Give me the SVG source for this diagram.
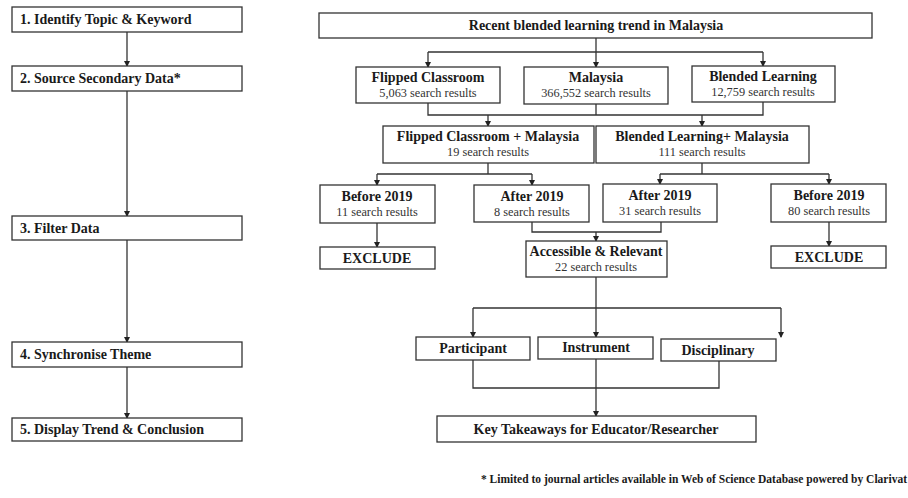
<svg xmlns="http://www.w3.org/2000/svg" width="908" height="498" viewBox="0 0 908 498">
<style>
.b{fill:#fff;stroke:#333;stroke-width:1.3}
.t{font-family:"Liberation Serif","Times New Roman",serif;font-weight:bold;font-size:14px;fill:#1a1a1a}
.s{font-family:"Liberation Serif","Times New Roman",serif;font-size:12.3px;fill:#333}
.c{text-anchor:middle}
.l{fill:none;stroke:#333;stroke-width:1.3}
.f{font-family:"Liberation Serif","Times New Roman",serif;font-weight:bold;font-size:11.5px;fill:#1a1a1a}
</style>
<defs>
<marker id="a" markerWidth="6" markerHeight="6" refX="5" refY="3" orient="auto" markerUnits="userSpaceOnUse">
<path d="M0,0 L6,3 L0,6 z" fill="#222"/>
</marker>
</defs>
<rect width="908" height="498" fill="#fff"/>
<g id="connectors">
<path class="l" d="M127,32 V66" marker-end="url(#a)"/>
<path class="l" d="M127,91 V216" marker-end="url(#a)"/>
<path class="l" d="M127,240 V342" marker-end="url(#a)"/>
<path class="l" d="M127,367 V418" marker-end="url(#a)"/>
<path class="l" d="M596,38 V52"/>
<path class="l" d="M428,52 H763"/>
<path class="l" d="M428,52 V67" marker-end="url(#a)"/>
<path class="l" d="M596,52 V67" marker-end="url(#a)"/>
<path class="l" d="M763,52 V66" marker-end="url(#a)"/>
<path class="l" d="M428,103 V115 H763 V102"/>
<path class="l" d="M596,104 V115"/>
<path class="l" d="M488,115 V126" marker-end="url(#a)"/>
<path class="l" d="M702,115 V126" marker-end="url(#a)"/>
<path class="l" d="M488,163 V174"/>
<path class="l" d="M377,174 H532"/>
<path class="l" d="M377,174 V185" marker-end="url(#a)"/>
<path class="l" d="M532,174 V185" marker-end="url(#a)"/>
<path class="l" d="M702,163 V174"/>
<path class="l" d="M660,174 H829"/>
<path class="l" d="M660,174 V184" marker-end="url(#a)"/>
<path class="l" d="M829,174 V184" marker-end="url(#a)"/>
<path class="l" d="M377,223 V247" marker-end="url(#a)"/>
<path class="l" d="M829,222 V246" marker-end="url(#a)"/>
<path class="l" d="M532,222 V232 H661 V222"/>
<path class="l" d="M596,232 V241" marker-end="url(#a)"/>
<path class="l" d="M596,277 V337" marker-end="url(#a)"/>
<path class="l" d="M473,308 H781"/>
<path class="l" d="M473,308 V337" marker-end="url(#a)"/>
<path class="l" d="M781,308 V337" marker-end="url(#a)"/>
<path class="l" d="M473,360 V388 H719 V361"/>
<path class="l" d="M596,359 V416" marker-end="url(#a)"/>
</g>
<g id="step1"><rect class="b" x="12" y="7" width="230" height="25"/><text class="t" x="20" y="24">1. Identify Topic &amp; Keyword</text></g>
<g id="step2"><rect class="b" x="12" y="66" width="230" height="25"/><text class="t" x="20" y="83">2. Source Secondary Data*</text></g>
<g id="step3"><rect class="b" x="12" y="216" width="230" height="24"/><text class="t" x="20" y="233">3. Filter Data</text></g>
<g id="step4"><rect class="b" x="12" y="342" width="230" height="25"/><text class="t" x="20" y="359">4. Synchronise Theme</text></g>
<g id="step5"><rect class="b" x="12" y="418" width="230" height="23"/><text class="t" x="20" y="434">5. Display Trend &amp; Conclusion</text></g>
<g id="title"><rect class="b" x="319" y="13" width="553" height="25"/><text class="t c" x="596" y="30">Recent blended learning trend in Malaysia</text></g>
<g id="flipped"><rect class="b" x="356" y="67" width="144" height="36"/><text class="t c" x="428" y="82">Flipped Classroom</text><text class="s c" x="428" y="97">5,063 search results</text></g>
<g id="malaysia"><rect class="b" x="524" y="67" width="144" height="37"/><text class="t c" x="596" y="82">Malaysia</text><text class="s c" x="596" y="97">366,552 search results</text></g>
<g id="blended"><rect class="b" x="692" y="66" width="143" height="36"/><text class="t c" x="763" y="81">Blended Learning</text><text class="s c" x="763" y="96">12,759 search results</text></g>
<g id="fcm"><rect class="b" x="383" y="126" width="211" height="37"/><text class="t c" x="488" y="141">Flipped Classroom + Malaysia</text><text class="s c" x="488" y="156">19 search results</text></g>
<g id="blm"><rect class="b" x="596" y="126" width="213" height="37"/><text class="t c" x="702" y="141">Blended Learning+ Malaysia</text><text class="s c" x="702" y="156">111 search results</text></g>
<g id="before1"><rect class="b" x="320" y="185" width="115" height="38"/><text class="t c" x="377" y="201">Before 2019</text><text class="s c" x="377" y="216">11 search results</text></g>
<g id="after1"><rect class="b" x="474" y="185" width="115" height="37"/><text class="t c" x="532" y="201">After 2019</text><text class="s c" x="532" y="216">8 search results</text></g>
<g id="after2"><rect class="b" x="603" y="184" width="114" height="38"/><text class="t c" x="660" y="200">After 2019</text><text class="s c" x="660" y="215">31 search results</text></g>
<g id="before2"><rect class="b" x="771" y="184" width="115" height="38"/><text class="t c" x="829" y="200">Before 2019</text><text class="s c" x="829" y="215">80 search results</text></g>
<g id="exclude1"><rect class="b" x="320" y="247" width="115" height="22"/><text class="t c" x="377" y="263">EXCLUDE</text></g>
<g id="exclude2"><rect class="b" x="771" y="246" width="115" height="22"/><text class="t c" x="829" y="262">EXCLUDE</text></g>
<g id="accessible"><rect class="b" x="526" y="241" width="141" height="36"/><text class="t c" x="596" y="256">Accessible &amp; Relevant</text><text class="s c" x="596" y="271">22 search results</text></g>
<g id="participant"><rect class="b" x="416" y="337" width="114" height="23"/><text class="t c" x="473" y="353">Participant</text></g>
<g id="instrument"><rect class="b" x="538" y="337" width="115" height="22"/><text class="t c" x="596" y="352">Instrument</text></g>
<g id="disciplinary"><rect class="b" x="661" y="339" width="115" height="22"/><text class="t c" x="718" y="355">Disciplinary</text></g>
<g id="takeaways"><rect class="b" x="437" y="416" width="319" height="26"/><text class="t c" x="596" y="434">Key Takeaways  for Educator/Researcher</text></g>
<text class="f" x="907" y="483" text-anchor="end">* Limited to journal articles available in Web of Science Database powered by Clarivat</text>
</svg>
